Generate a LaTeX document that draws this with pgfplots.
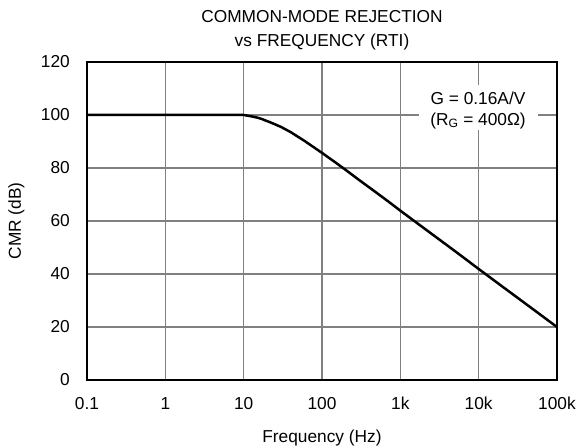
\documentclass[border=0pt]{standalone}
\usepackage{pgfplots}
\pgfplotsset{compat=1.18}
\usepackage{fontspec}
\setmainfont{Liberation Sans}
\newcommand\lf{\fontsize{17.3bp}{20bp}\selectfont}
\begin{document}
\lf
\begin{tikzpicture}
\useasboundingbox (-87bp,-66bp) rectangle (493bp,380bp);
\begin{axis}[
  at={(0,0)}, anchor=south west,
  scale only axis, width=470bp, height=318bp,
  xmode=log, xmin=0.1, xmax=100000, ymin=0, ymax=120,
  xtick={0.1,1,10,100,1000,10000,100000},
  xticklabels={0.1,1,10,100,1k,10k,100k},
  ytick={0,20,40,60,80,100,120},
  xminorticks=false,
  grid=major,
  major grid style={line width=1.3bp, black!50},
  axis line style={line width=2.5bp, black},
  tick style={draw=none},
  /pgf/number format/assume math mode=true,
  ticklabel style={font=\lf, inner sep=0pt},
  xticklabel style={anchor=base, yshift=-29.5bp},
  yticklabel style={anchor=east, xshift=-17bp},
  xlabel={Frequency (Hz)},
  ylabel={CMR (dB)},
  label style={font=\lf, inner sep=0pt},
  xlabel style={at={(axis description cs:0.5,-0.1950)}, anchor=base},
  ylabel style={at={(axis description cs:-0.1500,0.5)}, anchor=center},
  clip=false,
]
\addplot[black, line width=2.5bp, line join=round] coordinates {
  (0.1,100) (10,100) (12,99.6) (15,99.0) (17,98.5) (22,97.2) (30,95.5)
  (40,93.5) (60,90.2) (100,85.7) (150,82.0) (200,79.3) (300,75.4)
  (500,70.6) (700,67.4) (1000,63.9) (2000,57.3) (5000,48.6)
  (10000,41.9) (20000,35.3) (50000,26.6) (100000,20)
};
\node[fill=white, minimum width=119bp, minimum height=45bp, inner sep=0pt]
  at (axis cs:9810,102.8) {};
\node[anchor=base, inner sep=0pt, font=\lf] at (axis cs:9810,103.8) {G = 0.16A/V};
\node[anchor=base, inner sep=0pt, font=\lf] at (axis cs:9810,96.2) {(R\textsubscript{G} = 400Ω)};
\node[anchor=base, inner sep=0pt, font=\lf] at (axis description cs:0.5,1) [yshift=15bp] {vs FREQUENCY (RTI)};
\node[anchor=base, inner sep=0pt, font=\lf] at (axis description cs:0.5,1) [yshift=39bp] {COMMON-MODE REJECTION};
\end{axis}
\end{tikzpicture}
\end{document}
